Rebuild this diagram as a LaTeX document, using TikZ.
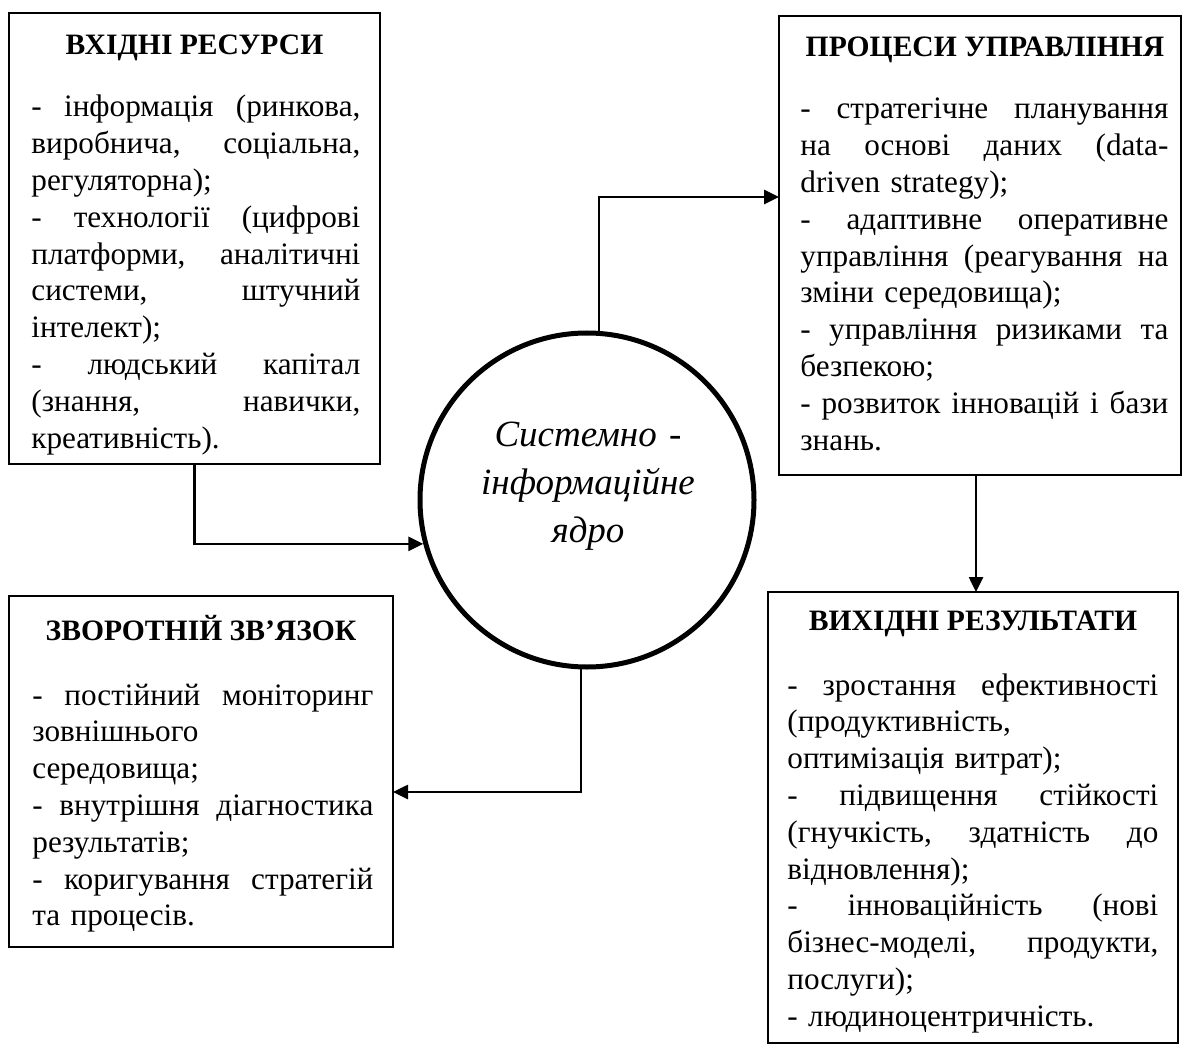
\documentclass[tikz,border=0pt]{standalone}
\usepackage{fontspec}
\setmainfont{Liberation Serif}
\usetikzlibrary{arrows.meta,calc}
\frenchspacing
\newcommand\bxfont{\fontsize{15.6pt}{18.4pt}\selectfont}
\newcommand\ttlfont{\fontsize{14.8pt}{18.4pt}\selectfont\bfseries}
\newcommand\corefont{\fontsize{18.5pt}{24pt}\selectfont\itshape}
\newdimen\jwd
\newcommand\jj[1]{\leavevmode\hbox to \jwd{\spaceskip=0.25em plus 1fil\xspaceskip=0.25em plus 1fil\relax #1}}
\tikzset{
  box/.style={draw, line width=0.65pt, inner sep=0pt, outer sep=0pt, rectangle},
  ttl/.style={anchor=base, inner sep=0pt, font=\ttlfont},
  body/.style={anchor=base west, inner sep=0pt, align=left, font=\bxfont,
    text width=#1, execute at begin node={\global\jwd=#1\relax}},
  conn/.style={line width=1.3pt, -{Triangle[length=7.5pt,width=7pt]}},
  core/.style={draw, circle, line width=2.5pt, inner sep=0pt, minimum size=167pt},
}
\begin{document}
\begin{tikzpicture}[x=0.5pt,y=-0.5pt]
\useasboundingbox (0,0) rectangle (1189,1048);
% boxes
\node[box, minimum width=185.5pt, minimum height=225.5pt] (tl) at (194.5,238.5) {};
\node[box, minimum width=201pt, minimum height=229.5pt] (tr) at (980,245.5) {};
\node[box, minimum width=192pt, minimum height=175.5pt] (bl) at (201,771.5) {};
\node[box, minimum width=205pt, minimum height=225.5pt] (br) at (973,817.5) {};
\node[core] (core) at (587,500) {};
% titles
\node[ttl] (tlt) at (194.5,55) {ВХІДНІ РЕСУРСИ};
\node[ttl] (trt) at (985,57) {ПРОЦЕСИ УПРАВЛІННЯ};
\node[ttl] (blt) at (201,640) {ЗВОРОТНІЙ ЗВ’ЯЗОК};
\node[ttl] (brt) at (973,630) {ВИХІДНІ РЕЗУЛЬТАТИ};
% bodies
\node[body=164.5pt] (tlb) at (31,117) {%
\jj{- інформація (ринкова,}\\
\jj{виробнича, соціальна,}\\
регуляторна);\\
\jj{- технології (цифрові}\\
\jj{платформи, аналітичні}\\
\jj{системи, штучний}\\
інтелект);\\
\jj{- людський капітал}\\
\jj{(знання, навички,}\\
креативність).};
\node[body=184pt] (trb) at (800,119) {%
\jj{- стратегічне планування}\\
\jj{на основі даних (data-}\\
driven strategy);\\
\jj{- адаптивне оперативне}\\
\jj{управління (реагування на}\\
зміни середовища);\\
\jj{- управління ризиками та}\\
безпекою;\\
\jj{- розвиток інновацій і бази}\\
знань.};
\node[body=170.5pt] (blb) at (32,705) {%
\jj{- постійний моніторинг}\\
зовнішнього\\
середовища;\\
\jj{- внутрішня діагностика}\\
результатів;\\
\jj{- коригування стратегій}\\
та процесів.};
\node[body=185.5pt] (brb) at (787,695) {%
\jj{- зростання ефективності}\\
(продуктивність,\\
оптимізація витрат);\\
\jj{- підвищення стійкості}\\
\jj{(гнучкість, здатність до}\\
відновлення);\\
\jj{- інноваційність (нові}\\
\jj{бізнес-моделі, продукти,}\\
послуги);\\
- людиноцентричність.};
% core text
\node[anchor=base, inner sep=0pt, text width=150pt, align=center, font=\corefont] (coret) at (588,446) {Системно -\\інформаційне\\ядро};
% connectors
\draw[conn] (tl.south) |- (core.195);
\draw[conn] (core.86) |- ($(tr.north west)+(0,181)$);
\draw[conn] ($(tr.south west)+(197,0)$) -- ($(br.north west)+(208,0)$);
\draw[conn] (core.268) |- ($(bl.north east)+(0,196)$);
\end{tikzpicture}
\end{document}
